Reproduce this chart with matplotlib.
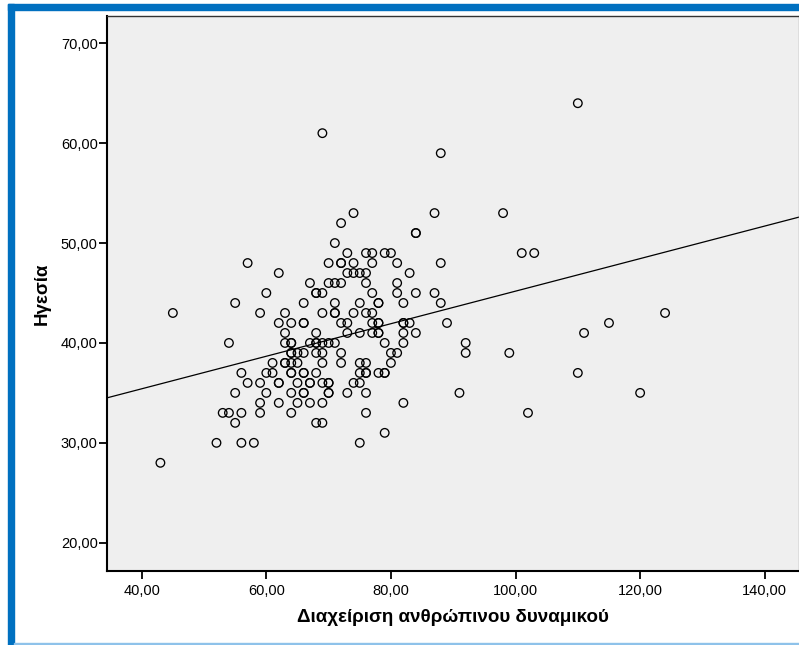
import matplotlib
matplotlib.use('Agg')
import matplotlib.pyplot as plt
import numpy as np
from matplotlib.patches import Rectangle

plt.rcParams['font.family'] = ['Liberation Sans', 'DejaVu Sans']

# Ηγεσία (y) values and the HR-management (x) scores found at each level
leadership_levels = [64, 61, 59, 53, 52, 51, 50, 49, 48, 47, 46, 45, 44, 43,
                     42, 41, 40, 39, 38, 37, 36, 35, 34, 33, 32, 31, 30, 28]
hr_scores_by_level = [
    [110],
    [69],
    [88],
    [74, 87, 98],
    [72],
    [84, 84],
    [71],
    [73, 76, 77, 79, 80, 101, 103],
    [57, 70, 72, 72, 74, 77, 81, 88],
    [62, 73, 74, 75, 76, 83],
    [67, 70, 71, 72, 76, 81],
    [60, 68, 68, 69, 77, 81, 84, 87],
    [55, 66, 71, 75, 78, 78, 82, 88],
    [45, 59, 63, 69, 71, 71, 74, 76, 77, 124],
    [62, 64, 66, 66, 72, 73, 77, 78, 78, 82, 82, 83, 89, 115],
    [63, 68, 73, 75, 77, 78, 78, 82, 84, 111],
    [54, 63, 64, 64, 67, 68, 68, 69, 70, 71, 79, 82, 92],
    [64, 64, 65, 66, 68, 69, 72, 80, 81, 92, 99],
    [61, 63, 63, 64, 65, 69, 72, 75, 76, 80],
    [56, 60, 61, 64, 64, 66, 66, 68, 75, 76, 76, 78, 79, 79, 110],
    [57, 59, 62, 62, 65, 67, 67, 69, 70, 70, 74, 75],
    [55, 60, 64, 66, 66, 70, 70, 73, 76, 91, 120],
    [59, 62, 65, 67, 69, 82],
    [53, 54, 56, 59, 64, 76, 102],
    [55, 68, 69],
    [79],
    [52, 56, 58, 75],
    [43],
]

x_ticks = [40, 60, 80, 100, 120, 140]
y_ticks = [20, 30, 40, 50, 60, 70]
x_label = 'Διαχείριση ανθρώπινου δυναμικού'
y_label = 'Ηγεσία'

hr = []
lead = []
for lvl, xs in zip(leadership_levels, hr_scores_by_level):
    for v in xs:
        hr.append(v)
        lead.append(lvl)
hr = np.array(hr, dtype=float)
lead = np.array(lead, dtype=float)

W, H = 799, 645
fig = plt.figure(figsize=(W / 100, H / 100), dpi=100)
ax = fig.add_axes([106.7 / W, 74.3 / H, (W - 106.7) / W, (570.7 - 16) / H])
ax.set_facecolor('#efefef')

ax.scatter(hr, lead, s=38, facecolors='none', edgecolors='black', linewidths=0.95, zorder=3)

# linear fit line across the whole x range
xlim = (34.38, 145.5)
slope, icpt = np.polyfit(hr, lead, 1)
xx = np.array(xlim)
ax.plot(xx, icpt + slope * xx, color='black', linewidth=0.9, zorder=2)

ax.set_xlim(*xlim)
ax.set_ylim(17.2, 72.73)
ax.set_xticks(x_ticks)
ax.set_yticks(y_ticks)
ax.set_xticklabels([('%.2f' % t).replace('.', ',') for t in x_ticks])
ax.set_yticklabels([('%.2f' % t).replace('.', ',') for t in y_ticks])
ax.tick_params(axis='both', direction='out', length=5.5, width=1.3, labelsize=10.5, colors='black')
ax.tick_params(axis='x', pad=4)
ax.tick_params(axis='y', pad=1)

for s in ['left', 'bottom']:
    ax.spines[s].set_linewidth(1.5)
    ax.spines[s].set_color('black')
ax.spines['top'].set_linewidth(1.0)
ax.spines['top'].set_color('#333333')
ax.spines['right'].set_linewidth(1.0)
ax.spines['right'].set_color('#999999')

ax.set_xlabel(x_label, fontsize=13.5, fontweight='bold')
ax.set_ylabel(y_label, fontsize=13.5, fontweight='bold')
ax.xaxis.set_label_coords(0.5, -(618 - 570.7) / (570.7 - 16))
ax.xaxis.label.set_verticalalignment('center')
ax.yaxis.set_label_coords(-(106.7 - 42.7) / (W - 106.7), 0.5)
ax.yaxis.label.set_verticalalignment('center')

# frame bands around the output window
fig.patches.append(Rectangle((8 / W, 0), 6 / W, (H - 4) / H, transform=fig.transFigure,
                             color='#0070c0', zorder=0))
fig.patches.append(Rectangle((8 / W, (H - 10) / H), (W - 8) / W, 6 / H, transform=fig.transFigure,
                             color='#0070c0', zorder=0))
fig.patches.append(Rectangle((14 / W, 0), (W - 14) / W, 2 / H, transform=fig.transFigure,
                             color='#8ec2ea', zorder=0))

fig.savefig('out.png', dpi=100, facecolor='white')
